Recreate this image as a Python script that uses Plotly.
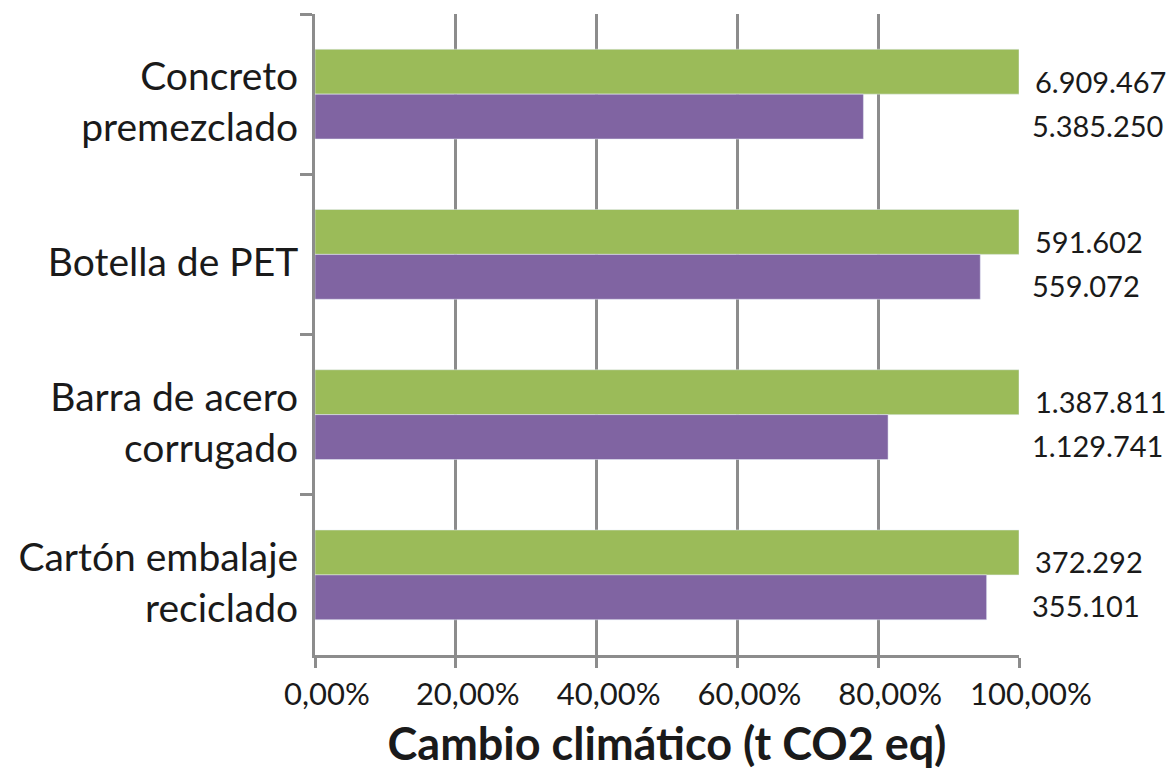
import plotly.graph_objects as go

# Datos
productos = ["Concreto<br>premezclado", "Botella de PET", "Barra de acero<br>corrugado", "Cartón embalaje<br>reciclado"]
pct_verde = [100.0, 100.0, 100.0, 100.0]
pct_morado = [77.9, 94.5, 81.4, 95.4]
etiq_verde = ["6.909.467", "591.602", "1.387.811", "372.292"]
etiq_morado = ["5.385.250", "559.072", "1.129.741", "355.101"]

fuente = "Lato"
gris = "#8c8c8c"

fig = go.Figure()
fig.add_trace(go.Bar(y=productos, x=pct_verde, orientation="h", marker_color="#9BBB59", name="verde"))
fig.add_trace(go.Bar(y=productos, x=pct_morado, orientation="h", marker_color="#8064A2", name="morado"))

# Etiquetas de valores a la derecha de la gráfica
for p, tv, tm in zip(productos, etiq_verde, etiq_morado):
    fig.add_annotation(x=100, y=p, text=tv, showarrow=False, xanchor="left", xshift=14, yshift=13,
                       font=dict(family=fuente, size=29, color="#1a1a1a"))
    fig.add_annotation(x=100, y=p, text=tm, showarrow=False, xanchor="left", xshift=11, yshift=-31,
                       font=dict(family=fuente, size=29, color="#1a1a1a"))

fig.update_layout(
    width=1176, height=771,
    margin=dict(l=307, r=165, t=6, b=124),
    plot_bgcolor="white", paper_bgcolor="white",
    barmode="group", bargap=0.44, bargroupgap=0,
    showlegend=False,
    separators=",.",
    font=dict(family=fuente, color="#1a1a1a"),
)
fig.update_xaxes(range=[0, 100], dtick=20, tickformat=".2f", ticksuffix="%",
                 showgrid=True, gridcolor=gris, gridwidth=3,
                 showline=True, linecolor=gris, linewidth=3,
                 ticks="outside", ticklen=10, tickwidth=3, tickcolor=gris,
                 zeroline=False, tickfont=dict(size=31), ticklabelshift=12,
                 title=dict(text="<b>Cambio climático (t CO2 eq)</b>", font=dict(size=45), standoff=18))
fig.update_yaxes(autorange="reversed", tickson="boundaries",
                 showline=True, linecolor=gris, linewidth=3,
                 ticks="outside", ticklen=12, tickwidth=3, tickcolor=gris,
                 showgrid=False, tickfont=dict(size=39), ticklabelstandoff=6, ticklabelshift=-8)

fig.write_html("out.html")
